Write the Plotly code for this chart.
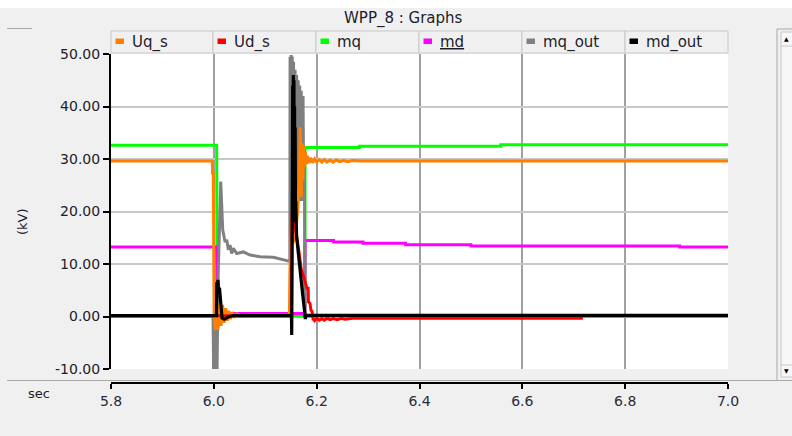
import plotly.graph_objects as go

# ------------------------------------------------------------------ data
SERIES_NAMES = ["Uq_s", "Ud_s", "mq", "md", "mq_out", "md_out"]
SERIES_COLORS = ["#ff8000", "#ff0000", "#00ff00", "#ff00ff", "#808080", "#000000"]

T_UQ_S = [5.80, 5.997, 5.9975, 5.9990, 6.0005, 6.003, 6.005, 6.008, 6.011, 6.014, 6.017,
          6.020, 6.023, 6.026, 6.029, 6.032, 6.035, 6.040, 6.045, 6.052, 6.060, 6.147,
          6.148, 6.150, 6.152, 6.154, 6.158, 6.163, 6.166, 6.168, 6.170, 6.1715, 6.173,
          6.1745, 6.176, 6.178, 6.180, 6.182, 6.185, 6.188, 6.192, 6.196, 6.200, 6.205,
          6.210, 6.215, 6.220, 6.226, 6.232, 6.238, 6.245, 6.252, 6.260, 6.270, 6.285, 7.0]
UQ_S = [29.6, 29.6, 27.3, 27.3, 0.5, -2.6, 1.5, -2.5, 2.5, -1.8, 2.2,
        -1.2, 1.6, -0.8, 1.1, -0.5, 0.8, 0.0, 0.5, 0.1, 0.2, 0.3,
        9.0, 15.0, 19.0, 14.0, 15.0, 20.0, 25.0, 36.0, 22.7, 33.0, 26.0,
        32.5, 28.5, 31.3, 29.0, 30.6, 29.2, 30.2, 29.3, 30.0, 29.4, 29.9,
        29.4, 29.9, 29.4, 29.8, 29.4, 29.8, 29.5, 29.7, 29.5, 29.7, 29.6, 29.6]

T_UD_S = [5.80, 6.151, 6.1525, 6.160, 6.166, 6.170, 6.175, 6.178, 6.181, 6.1835, 6.1840,
          6.187, 6.189, 6.191, 6.193, 6.196, 6.200, 6.205, 6.210, 6.215, 6.220, 6.226,
          6.232, 6.240, 6.248, 6.255, 6.270, 6.300, 6.400, 6.500, 6.600, 6.715, 6.7155, 7.0]
UD_S = [0.15, 0.15, 20.0, 16.0, 12.0, 9.0, 7.5, 6.5, 5.4, 5.4, 2.8,
        2.5, 1.2, 1.0, -0.5, -0.8, -0.3, -0.7, -0.4, -0.7, -0.3, -0.6,
        -0.4, -0.6, -0.35, -0.5, -0.35, -0.35, -0.35, -0.35, -0.35, -0.35, 0.15, 0.15]

T_MQ = [5.80, 6.0055, 6.0065, 6.1770, 6.1775, 6.283, 6.2831, 6.558, 6.5581, 7.0]
MQ = [32.6, 32.6, 0.1, 0.1, 32.2, 32.2, 32.45, 32.45, 32.7, 32.7]

T_MD = [5.80, 6.0055, 6.0065, 6.1770, 6.1775, 6.233, 6.2331, 6.290, 6.2901, 6.373,
        6.3731, 6.500, 6.5001, 6.906, 6.9061, 7.0]
MD = [13.25, 13.25, 0.55, 0.55, 14.5, 14.5, 14.2, 14.2, 13.95, 13.95,
      13.65, 13.65, 13.45, 13.45, 13.25, 13.25]

T_MQ_OUT = [5.80, 5.9985, 5.9995, 6.0005, 6.0015, 6.0025, 6.0035, 6.0045, 6.0062, 6.0085,
            6.0134, 6.0173, 6.0218, 6.0251, 6.0282, 6.0315, 6.0348, 6.0379, 6.0446, 6.0574,
            6.0704, 6.0899, 6.1158, 6.1449, 6.1478, 6.1483, 6.1495, 6.1505, 6.1515, 6.1525,
            6.1535, 6.1550, 6.1565, 6.1580, 6.1595, 6.1610, 6.1625, 6.1640, 6.1655, 6.1670,
            6.1685, 6.1700, 6.1715, 6.1735, 6.1748, 6.1762, 6.1772, 7.0]
MQ_OUT = [0.1, 0.1, -10.0, -2.0, -10.0, -3.0, -10.0, -1.0, -10.0, 8.0,
          25.7, 16.5, 14.2, 14.6, 12.7, 13.6, 12.0, 13.0, 12.0, 12.3,
          11.7, 11.4, 11.3, 10.6, 10.5, 49.5, 30.0, 49.8, 26.0, 49.5,
          30.0, 48.5, 24.0, 47.0, 28.0, 46.0, 24.0, 45.0, 23.0, 44.0,
          22.0, 43.0, 22.0, 42.0, 23.0, 32.0, 0.1, 0.1]

T_MD_OUT = [5.80, 6.0052, 6.0058, 6.0068, 6.0080, 6.0095, 6.0110, 6.0125, 6.0140, 6.0160,
            6.0200, 6.0300, 6.0400, 6.1510, 6.1515, 6.1522, 6.1528, 6.1534, 6.1540, 6.1546,
            6.1552, 6.1558, 6.1564, 6.1570, 6.1576, 6.1582, 6.1588, 6.1594, 6.1610, 6.1640,
            6.1670, 6.1700, 6.1730, 6.1765, 6.1775, 6.1780, 6.1790, 7.0]
MD_OUT = [0.15, 0.15, 6.5, 5.0, 7.0, 4.5, 5.5, 3.0, 1.0, -0.3,
          -0.5, 0.0, 0.15, 0.15, -3.5, 30.0, 22.0, 44.0, 25.0, 46.0,
          21.0, 45.0, 20.0, 40.0, 19.0, 36.0, 18.0, 22.0, 15.2, 12.0,
          9.0, 6.5, 4.0, 1.0, 0.5, -0.5, 0.2, 0.2]

X_TICKS = [5.8, 6.0, 6.2, 6.4, 6.6, 6.8, 7.0]
X_TICK_LABELS = ["5.8", "6.0", "6.2", "6.4", "6.6", "6.8", "7.0"]
X_GRID = [6.0, 6.2, 6.4, 6.6, 6.8]
Y_TICKS = [-10, 0, 10, 20, 30, 40, 50]
Y_TICK_LABELS = ["-10.00", "0.00", "10.00", "20.00", "30.00", "40.00", "50.00"]

TITLE = "WPP_8 : Graphs"
Y_LABEL = "(kV)"
X_LABEL = "sec"

# ------------------------------------------------------------------ layout geometry (pixels)
W, H = 792, 436
ML, MR, MT, MB = 111, 64, 54, 53
PW = W - ML - MR
PH = H - MT - MB
PLOT_BOTTOM_PX = 369


def px(xp):
    return (xp - ML) / PW


def py(yp):
    return (H - MB - yp) / PH


FONT = "DejaVu Sans"
TXT = "#1c1c2a"

series = {
    "Uq_s": (T_UQ_S, UQ_S),
    "Ud_s": (T_UD_S, UD_S),
    "mq": (T_MQ, MQ),
    "md": (T_MD, MD),
    "mq_out": (T_MQ_OUT, MQ_OUT),
    "md_out": (T_MD_OUT, MD_OUT),
}
color_of = dict(zip(SERIES_NAMES, SERIES_COLORS))

fig = go.Figure()
draw_order = ["mq", "md", "mq_out", "Uq_s", "Ud_s", "md_out"]
for name in draw_order:
    t, v = series[name]
    fig.add_trace(go.Scatter(
        x=t, y=v, mode="lines", name=name,
        line=dict(color=color_of[name], width=3 if name != "md_out" else 3.2),
        hoverinfo="skip",
    ))

shapes = []
annotations = []

# white strip at the very top
shapes.append(dict(type="rect", xref="paper", yref="paper", x0=px(0), x1=px(W), y0=py(0), y1=py(8),
                   fillcolor="#ffffff", line=dict(width=0), layer="below"))
# small header line on the left
shapes.append(dict(type="line", xref="paper", yref="paper", x0=px(7), x1=px(32), y0=py(28.5), y1=py(28.5),
                   line=dict(color="#a8a8a8", width=1)))
# bottom separator
shapes.append(dict(type="line", xref="paper", yref="paper", x0=px(7), x1=px(777), y0=py(380.5), y1=py(380.5),
                   line=dict(color="#a8a8a8", width=1)))
# scrollbar
shapes.append(dict(type="rect", xref="paper", yref="paper", x0=px(777), x1=px(795), y0=py(29), y1=py(380.5),
                   fillcolor="#f0f0f0", line=dict(color="#a8a8a8", width=1)))
shapes.append(dict(type="rect", xref="paper", yref="paper", x0=px(781), x1=px(795), y0=py(32), y1=py(377),
                   fillcolor="#f7f7f7", line=dict(color="#c8c8c8", width=1)))
shapes.append(dict(type="line", xref="paper", yref="paper", x0=px(781), x1=px(795), y0=py(46), y1=py(46),
                   line=dict(color="#c8c8c8", width=1)))
shapes.append(dict(type="line", xref="paper", yref="paper", x0=px(781), x1=px(795), y0=py(365), y1=py(365),
                   line=dict(color="#c8c8c8", width=1)))
annotations.append(dict(text="▲", xref="paper", yref="paper", x=px(786.5), y=py(38.5), showarrow=False,
                        font=dict(size=6, color="#000000", family=FONT), xanchor="center", yanchor="middle"))
annotations.append(dict(text="▼", xref="paper", yref="paper", x=px(786.5), y=py(370.5), showarrow=False,
                        font=dict(size=6, color="#000000", family=FONT), xanchor="center", yanchor="middle"))

# legend header cells
cell_edges = [111, 213, 316, 419, 522, 625, 728]
for i, name in enumerate(SERIES_NAMES):
    x0, x1 = cell_edges[i], cell_edges[i + 1]
    shapes.append(dict(type="rect", xref="paper", yref="paper", x0=px(x0), x1=px(x1), y0=py(53), y1=py(31),
                       fillcolor="#f0f0f0", line=dict(color="#c8c8c8", width=1)))
    shapes.append(dict(type="rect", xref="paper", yref="paper", x0=px(x0 + 4.5), x1=px(x0 + 13), y0=py(44),
                       y1=py(38.5), fillcolor=color_of[name], line=dict(width=0)))
    label = "<u>md</u>" if name == "md" else name
    annotations.append(dict(text=label, xref="paper", yref="paper", x=px(x0 + 19), y=py(42.5),
                            showarrow=False, xanchor="left", yanchor="middle",
                            font=dict(size=15, color=TXT, family=FONT)))

# title and axis labels
annotations.append(dict(text=TITLE, xref="paper", yref="paper", x=px(403), y=py(18.5), showarrow=False,
                        xanchor="center", yanchor="middle", font=dict(size=15, color=TXT, family=FONT)))
annotations.append(dict(text=Y_LABEL, xref="paper", yref="paper", x=px(22), y=py(222), showarrow=False,
                        textangle=-90, xanchor="center", yanchor="middle",
                        font=dict(size=13, color=TXT, family=FONT)))
annotations.append(dict(text=X_LABEL, xref="paper", yref="paper", x=px(39), y=py(393), showarrow=False,
                        xanchor="center", yanchor="middle", font=dict(size=13, color=TXT, family=FONT)))

fig.update_layout(
    width=W, height=H,
    margin=dict(l=ML, r=MR, t=MT, b=MB, pad=0),
    paper_bgcolor="#f0f0f0",
    plot_bgcolor="#ffffff",
    showlegend=False,
    hovermode=False,
    shapes=shapes,
    annotations=annotations,
    xaxis=dict(
        range=[X_TICKS[0], X_TICKS[-1]], anchor="free", position=0,
        showline=True, linecolor="#000000", linewidth=1.5,
        ticks="outside", ticklen=5, tickwidth=1.5, tickcolor="#000000",
        tickvals=X_TICKS, ticktext=X_TICK_LABELS,
        tickfont=dict(size=14, color="#2a2a3c", family=FONT),
        showgrid=False, zeroline=False,
        minor=dict(tickvals=X_GRID, showgrid=True, gridcolor="#a0a0a0", gridwidth=2, ticks=""),
    ),
    yaxis=dict(
        range=[Y_TICKS[0], Y_TICKS[-1]], domain=[py(PLOT_BOTTOM_PX), 1],
        showline=True, linecolor="#000000", linewidth=2,
        ticks="outside", ticklen=6, tickwidth=1.5, tickcolor="#000000",
        tickvals=Y_TICKS, ticktext=Y_TICK_LABELS,
        tickfont=dict(size=14, color=TXT, family=FONT),
        showgrid=True, gridcolor="#c8c8c8", gridwidth=2, zeroline=False,
    ),
)

fig.write_html("out.html", config={"displayModeBar": False},
               post_script="document.body.style.margin='0px';")
